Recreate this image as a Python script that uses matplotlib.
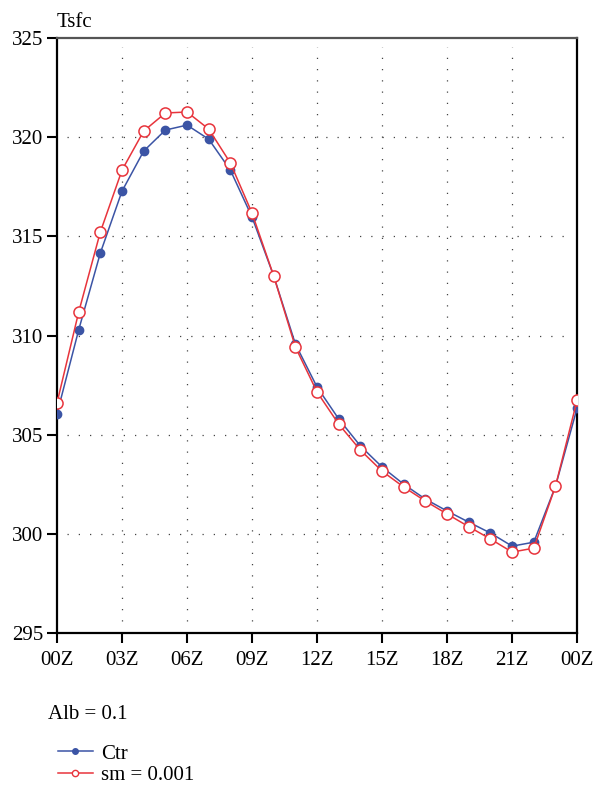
import matplotlib.pyplot as plt
from matplotlib.lines import Line2D

plt.rcParams['font.family'] = ['Liberation Serif', 'DejaVu Serif']

hours = list(range(25))
tick_hours = [0, 3, 6, 9, 12, 15, 18, 21, 24]
tick_labels = ["00Z", "03Z", "06Z", "09Z", "12Z", "15Z", "18Z", "21Z", "00Z"]

ctr = [306.05, 310.28, 314.16, 317.28, 319.30, 320.36, 320.61, 319.90, 318.34,
       315.97, 313.00, 309.57, 307.40, 305.79, 304.43, 303.37, 302.50, 301.75,
       301.15, 300.59, 300.04, 299.38, 299.58, 302.40, 306.35]
sm = [306.60, 311.18, 315.22, 318.34, 320.31, 321.22, 321.27, 320.41, 318.70,
      316.17, 313.00, 309.42, 307.15, 305.53, 304.22, 303.16, 302.36, 301.65,
      301.00, 300.36, 299.74, 299.08, 299.28, 302.40, 306.75]

BLUE = '#3b54a5'
RED = '#e8343c'

fig = plt.figure(figsize=(5.95, 7.89), dpi=100)
ax = fig.add_axes([0.0958, 0.1977, 0.8742, 0.7541])

ax.plot(hours, ctr, '-o', color=BLUE, lw=1.1, markersize=6,
        markerfacecolor=BLUE, markeredgecolor=BLUE, zorder=3)
ax.plot(hours, sm, '-o', color=RED, lw=1.1, markersize=8,
        markerfacecolor='white', markeredgecolor=RED, markeredgewidth=1.1, zorder=4)

ax.set_xlim(0, 24)
ax.set_ylim(295, 325)
ax.set_xticks(tick_hours)
ax.set_xticklabels(tick_labels)
ax.set_yticks([295, 300, 305, 310, 315, 320, 325])
ax.tick_params(direction='out', length=7, width=1.5, labelsize=15, pad=3)
ax.tick_params(axis='x', pad=6)

for h in tick_hours[1:-1]:
    ax.axvline(h, ymin=0.02, ymax=0.985, color='#444444', lw=0.9,
               ls=(0, (1, 8)), zorder=1)
for v in [300, 305, 310, 315, 320]:
    ax.axhline(v, xmin=0.02, xmax=0.975, color='#444444', lw=0.9,
               ls=(0, (1, 8)), zorder=1)

for s in ax.spines.values():
    s.set_linewidth(1.6)
    s.set_color('black')
ax.spines['top'].set_color('#555555')

fig.text(0.0958, 0.972, "Tsfc", fontsize=15, ha='left', va='center')
fig.text(0.081, 0.095, "Alb = 0.1", fontsize=15, ha='left', va='center')

handles = [
    Line2D([], [], color=BLUE, lw=1.1, marker='o', markersize=4,
           markerfacecolor=BLUE, markeredgecolor=BLUE),
    Line2D([], [], color=RED, lw=1.1, marker='o', markersize=4.5,
           markerfacecolor='white', markeredgecolor=RED),
]
fig.legend(handles, ["Ctr", "sm = 0.001"], loc='upper left',
           bbox_to_anchor=(0.097, 0.057), frameon=False, fontsize=15,
           handlelength=1.7, handletextpad=0.4, labelspacing=0.08,
           borderaxespad=0, borderpad=0)

fig.savefig("out.png", dpi=100)
